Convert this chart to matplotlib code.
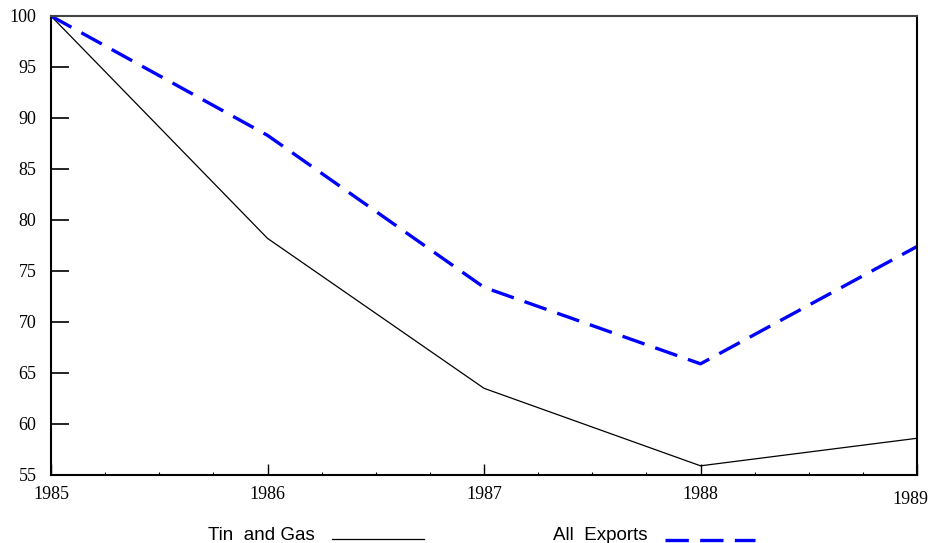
import matplotlib.pyplot as plt
from matplotlib.lines import Line2D
from matplotlib.ticker import MultipleLocator
from matplotlib.transforms import ScaledTranslation

# index values (1985 = 100)
years = [1985, 1986, 1987, 1988, 1989]
tin_gas = [100, 78.2, 63.5, 55.9, 58.6]
all_exports = [100, 88.3, 73.4, 65.9, 77.4]
y_ticks = [55, 60, 65, 70, 75, 80, 85, 90, 95, 100]

fig = plt.figure(figsize=(9.3, 5.43), dpi=100)
ax = fig.add_axes([51 / 930, 68 / 543, 866 / 930, 459 / 543])

ax.plot(years, tin_gas, color="black", lw=0.9)
ax.plot(years, all_exports, color="#0000ff", lw=2.4, dashes=(7, 3.4))

ax.set_xlim(1985, 1989)
ax.set_ylim(55, 100)
ax.set_yticks(y_ticks)
ax.set_xticks(years)
ax.xaxis.set_minor_locator(MultipleLocator(0.25))

serif = ["Liberation Serif", "DejaVu Serif"]
ax.set_yticklabels([str(v) for v in y_ticks], family=serif, fontsize=13)
ax.set_xticklabels([str(y) for y in years], family=serif, fontsize=13)

ax.tick_params(axis="y", direction="in", length=13, width=1.2, pad=10.5)
ax.tick_params(axis="x", which="major", direction="in", length=8, width=1.0, pad=8)
ax.tick_params(axis="x", which="minor", direction="in", length=2, width=0.8)

# the last year label sits a little lower and pulled in from the edge
last = ax.xaxis.get_major_ticks()[-1].label1
last.set_transform(last.get_transform() + ScaledTranslation(-7 / 100, -5 / 100, fig.dpi_scale_trans))

for side in ["left", "bottom", "right"]:
    ax.spines[side].set_linewidth(1.5)
    ax.spines[side].set_color("black")
ax.spines["top"].set_linewidth(1.5)
ax.spines["top"].set_color("#444444")

# legend drawn underneath the axes
sans = ["Liberation Sans", "DejaVu Sans"]
fig.text(208 / 930, 1 - 535 / 543, "Tin  and Gas", family=sans, fontsize=13.5, va="center")
fig.add_artist(Line2D([332 / 930, 424 / 930], [1 - 539 / 543] * 2, color="black", lw=0.9,
                      transform=fig.transFigure))
fig.text(553 / 930, 1 - 535 / 543, "All  Exports", family=sans, fontsize=13.5, va="center")
fig.add_artist(Line2D([665 / 930, 755 / 930], [1 - 540 / 543] * 2, color="#0000ff", lw=2.4,
                      dashes=(7, 3.4), transform=fig.transFigure))

fig.savefig("out.png", dpi=100)
